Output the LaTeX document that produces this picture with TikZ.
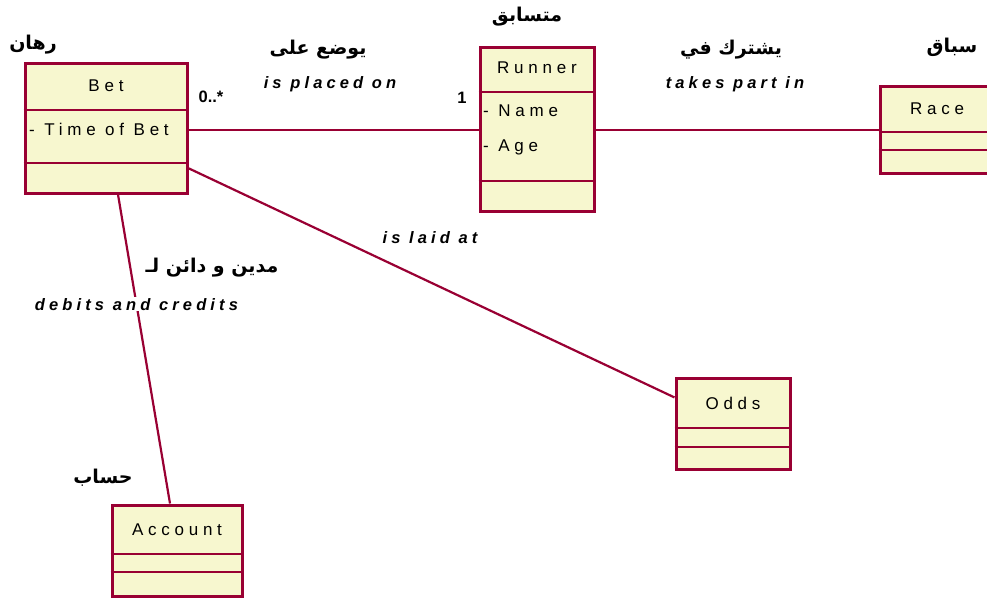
\documentclass[tikz,border=0pt]{standalone}
\usepackage{fontspec}
\setmainfont{Liberation Sans}
\newfontfamily\umlfont[LetterSpace=28]{Liberation Sans}
\newfontfamily\rolefont[LetterSpace=25]{Liberation Sans}
\newfontfamily\arabicfont[Script=Arabic]{DejaVu Sans}
\TeXXeTstate=1
\usepackage{tikz}
\definecolor{umlred}{HTML}{990033}
\definecolor{umlfill}{HTML}{F7F7CF}

\begin{document}
\begin{tikzpicture}[
    x=1pt, y=-1pt,
    every node/.style={
        inner sep=1pt,
        align=center
    },
    classbox/.style={
        rectangle,
        draw=umlred,
        fill=umlfill,
        line width=3pt,
        inner sep=0pt
    },
    divider/.style={
        draw=umlred,
        line width=2.2pt
    },
    classname/.style={
        font=\umlfont\fontsize{17}{20}\selectfont
    },
    attr/.style={
        anchor=west,
        font=\umlfont\fontsize{17}{20}\selectfont
    },
    roletext/.style={
        font=\rolefont\fontsize{16.5}{19}\selectfont\bfseries\itshape
    },
    mult/.style={
        font=\fontsize{16.5}{19}\selectfont\bfseries
    },
    arlabel/.style={
        font=\arabicfont\fontsize{19}{22}\selectfont\bfseries
    },
    assoc/.style={
        draw=umlred,
        line width=2.2pt
    }
]
\useasboundingbox (0,0) rectangle (987,598);
\clip (0,0) rectangle (987,598);

% class boxes
\node[classbox, minimum width=162pt, minimum height=130pt] (bet) at (106,128) {};
\node[classbox, minimum width=114pt, minimum height=164pt] (runner) at (537,129) {};
\node[classbox, minimum width=120pt, minimum height=87pt] (race) at (940,129.5) {};
\node[classbox, minimum width=114pt, minimum height=91pt] (odds) at (733,423.5) {};
\node[classbox, minimum width=130pt, minimum height=91pt] (account) at (177,550.5) {};

% compartments
\draw[divider] (bet.west |- 0,110) -- (bet.east |- 0,110);
\draw[divider] (bet.west |- 0,163) -- (bet.east |- 0,163);
\draw[divider] (runner.west |- 0,92) -- (runner.east |- 0,92);
\draw[divider] (runner.west |- 0,181) -- (runner.east |- 0,181);
\draw[divider] (race.west |- 0,132) -- (race.east |- 0,132);
\draw[divider] (race.west |- 0,150) -- (race.east |- 0,150);
\draw[divider] (odds.west |- 0,428) -- (odds.east |- 0,428);
\draw[divider] (odds.west |- 0,447) -- (odds.east |- 0,447);
\draw[divider] (account.west |- 0,554) -- (account.east |- 0,554);
\draw[divider] (account.west |- 0,572) -- (account.east |- 0,572);

% class texts
\node[classname] (betname) at (106,86) {Bet};
\node[attr] (bettime) at (28,129) {- Time of Bet};
\node[classname] (runnername) at (537,68) {Runner};
\node[attr] (runnerage0) at (482,111) {- Name};
\node[attr] (runnerage) at (482,147) {- Age};
\node[classname] (racename) at (937,109) {Race};
\node[classname] (oddsname) at (733,403) {Odds};
\node[classname] (accountname) at (177,530) {Account};

% associations
\draw[assoc] (bet.east |- 0,130) -- (runner.west |- 0,130);
\draw[assoc] (runner.east |- 0,130) -- (race.west |- 0,130);
\draw[assoc] (bet.-26) -- (odds.156);
\draw[assoc] ([xshift=12pt]bet.south) -- ([xshift=-7pt]account.north)
    node[roletext, fill=white, pos=0.355] (debits) {debits and credits};

% role names and multiplicities
\node[arlabel] (betar) at (33,45) {\beginR رهان\endR};
\node[mult] (betmult) at (211,97) {0..*};
\node[arlabel] (placedar) at (318,50) {\beginR يوضع على\endR};
\node[roletext] (placed) at (330,84) {is placed on};
\node[mult] (runnermult) at (462,98) {1};
\node[arlabel] (runnerar) at (527,17) {\beginR متسابق\endR};
\node[arlabel] (takesar) at (731,50) {\beginR يشترك في\endR};
\node[roletext] (takes) at (735,84) {takes part in};
\node[arlabel] (racear) at (952,47) {\beginR سباق\endR};
\node[roletext] (laid) at (430,238) {is laid at};
\node[arlabel] (debitsar) at (212,268) {\beginR مدين و دائن لـ\endR};
\node[arlabel] (accountar) at (103,478) {\beginR حساب\endR};

\end{tikzpicture}
\end{document}
